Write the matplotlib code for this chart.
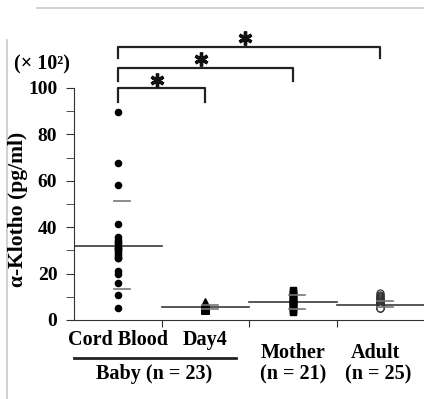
import matplotlib
matplotlib.use("Agg")
from matplotlib import pyplot as plt
from matplotlib import transforms
from matplotlib.lines import Line2D
import numpy as np

plt.rcParams['font.family'] = ['Liberation Serif', 'DejaVu Serif']
plt.rcParams['font.weight'] = 'bold'

groups = ['Cord Blood', 'Day4', 'Mother', 'Adult']
cord = [89.8, 67.8, 58.2, 41.4, 35.6, 34.5, 33.6, 33.0, 32.3, 31.5, 30.8,
        30.0, 29.3, 28.5, 27.7, 26.8, 26.6, 21.1, 19.7, 15.8, 10.6, 5.0, 31.0]
day4 = [7.6, 7.1, 6.8, 6.5, 6.3, 6.1, 6.0, 5.8, 5.7, 5.5, 5.4, 5.3, 5.2,
        5.1, 5.0, 4.9, 4.8, 4.7, 4.6, 4.5, 5.6, 5.9, 6.2]
mother = [12.9, 12.3, 11.7, 11.1, 10.6, 10.1, 9.6, 9.2, 8.8, 8.4, 8.0,
          7.6, 7.2, 6.8, 6.4, 6.0, 5.5, 5.0, 4.5, 4.0, 3.6]
adult = [11.5, 10.8, 10.2, 9.7, 9.3, 8.9, 8.6, 8.3, 8.0, 7.8, 7.6, 7.4,
         7.2, 7.0, 6.8, 6.6, 6.4, 6.2, 6.0, 5.8, 5.6, 5.4, 5.2, 5.1, 5.0]
medians = [32.0, 5.5, 7.8, 6.5]
upper = [51.4, 6.4, 10.8, 8.3]
lower = [13.2, 4.8, 4.6, 5.5]
n_labels = ['Baby (n = 23)', '(n = 21)', '(n = 25)']
pairs = [(0, 1), (0, 2), (0, 3)]

fig = plt.figure(figsize=(4.24, 3.99), dpi=100)
ax = fig.add_axes([74 / 424, 1 - 320 / 399, 350 / 424, 232 / 399])

series = [cord, day4, mother, adult]
styles = [dict(marker='o', s=20, c='black'),
          dict(marker='^', s=30, c='black'),
          dict(marker='s', s=24, c='black'),
          dict(marker='o', s=26, facecolors='white', edgecolors='#333333',
               linewidths=0.9)]
for i, vals in enumerate(series):
    ax.scatter(np.full(len(vals), i), vals, zorder=3, **styles[i])
    ax.plot([i - 0.5, i + 0.5], [medians[i]] * 2, color='#3a3a3a', lw=1.2,
            zorder=2)
    for v in (upper[i], lower[i]):
        ax.plot([i - 0.04, i + 0.14], [v, v], color='#777777', lw=1.2,
                zorder=4)

ax.set_xlim(-0.5, 3.5)
ax.set_ylim(0, 100)
ax.spines['top'].set_visible(False)
ax.spines['right'].set_visible(False)
ax.spines['left'].set_color('#333333')
ax.spines['bottom'].set_color('#333333')
ax.set_xticks([0.5, 1.5, 2.5])
ax.set_xticklabels([])
ax.set_yticks(np.arange(0, 101, 20))
ax.set_yticks(np.arange(0, 101, 10), minor=True)
ax.tick_params(axis='y', which='both', length=6, color='#333333',
               labelsize=14, pad=6)
ax.tick_params(axis='x', length=5, color='#333333')
for lab in ax.get_yticklabels():
    lab.set_fontweight('bold')

fig.text(18 / 424, 1 - 209 / 399, u'\u03b1-Klotho (pg/ml)', fontsize=15.5,
         fontweight='bold', rotation=90, ha='center', va='center')
fig.text(42 / 424, 1 - 64 / 399, u'(\u00d7 10\u00b2)', fontsize=14.5,
         fontweight='bold', ha='center', va='center')

# significance brackets
levels = [(94.1, 99.9), (103.0, 108.8), (112.9, 117.8)]
for (a, b), (lo, hi) in zip(pairs, levels):
    ax.plot([a, a, b, b], [lo, hi, hi, lo], color='#222222', lw=1.6,
            clip_on=False)
    ax.plot((a + b) / 2 - 0.05, hi + 3.6, marker=(6, 2, 0), ms=10, mew=2.4,
            color='#111111', clip_on=False)

# category labels below the axis
trans = transforms.blended_transform_factory(ax.transData, fig.transFigure)
fs = 14.5
fig.text(0, 1 - 340 / 399, groups[0], fontsize=fs, fontweight='bold',
         ha='center', va='center', transform=trans)
fig.text(1, 1 - 340 / 399, groups[1], fontsize=fs, fontweight='bold',
         ha='center', va='center', transform=trans)
fig.text(2, 1 - 353 / 399, groups[2], fontsize=fs, fontweight='bold',
         ha='center', va='center', transform=trans)
fig.text(2.94, 1 - 353 / 399, groups[3], fontsize=fs, fontweight='bold',
         ha='center', va='center', transform=trans)
fig.add_artist(Line2D([-0.5, 1.35], [1 - 358 / 399] * 2, color='#222222',
                      lw=2, transform=trans))
fig.text(0.42, 1 - 374 / 399, n_labels[0], fontsize=fs, fontweight='bold',
         ha='center', va='center', transform=trans)
fig.text(2, 1 - 374 / 399, n_labels[1], fontsize=fs, fontweight='bold',
         ha='center', va='center', transform=trans)
fig.text(2.98, 1 - 374 / 399, n_labels[2], fontsize=fs, fontweight='bold',
         ha='center', va='center', transform=trans)

# frame edges from the original screenshot
fig.add_artist(Line2D([37 / 424, 1], [1 - 8 / 399] * 2, color='#c8c8c8',
                      lw=1.2))
fig.add_artist(Line2D([7 / 424] * 2, [0, 1 - 40 / 399], color='#c8c8c8',
                      lw=1.2))

fig.savefig('out.png', dpi=100)
